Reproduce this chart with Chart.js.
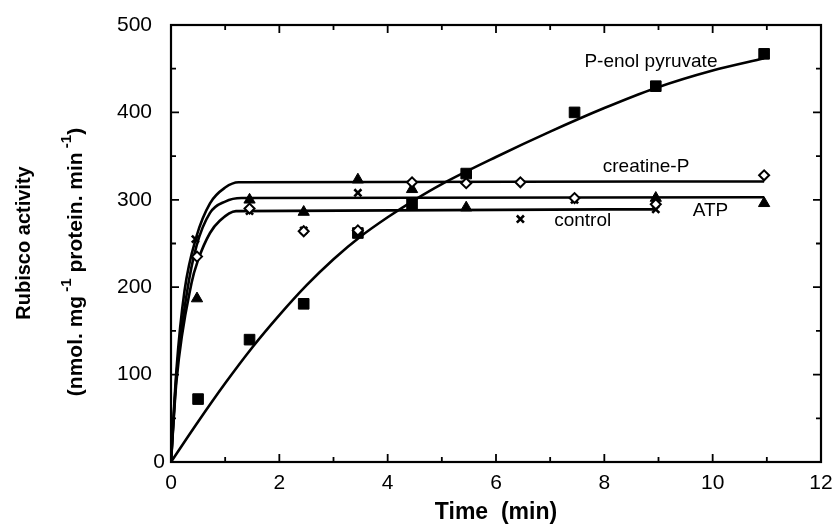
<!DOCTYPE html>
<html>
<head>
<meta charset="utf-8">
<script src="https://cdn.jsdelivr.net/npm/chart.js@4.4.1/dist/chart.umd.min.js"></script>
<style>
  html, body { margin: 0; padding: 0; background: #fff; }
  #wrap { width: 838px; height: 531px; }
</style>
</head>
<body>
<div id="wrap"><canvas id="c" width="838" height="531"></canvas></div>
<script>
// ---------- data ----------
const xTicks = [0, 2, 4, 6, 8, 10, 12];
const yTicks = [0, 100, 200, 300, 400, 500];

// measured points
const pepPts      = [[0.5, 72], [1.45, 140], [2.45, 181], [3.45, 262], [4.45, 295], [5.45, 330], [7.45, 400], [8.95, 430], [10.95, 467]];
const atpPts      = [[0.48, 187], [1.45, 300], [2.45, 286], [3.45, 323], [4.45, 312], [5.45, 291], [8.95, 302], [10.95, 296]];
const controlPts  = [[0.45, 255], [1.45, 287], [2.45, 265], [3.45, 308], [4.45, 297], [6.45, 278], [7.45, 300], [8.95, 289]];
const creatinePts = [[0.48, 235], [1.45, 290], [2.45, 264], [3.45, 265], [4.45, 320], [5.45, 319], [6.45, 320], [7.45, 302], [8.95, 295], [10.95, 328]];

// fitted curves
const pepCurve      = [[0, 0], [0.5, 46], [1, 90], [1.5, 131], [2, 168], [2.5, 202], [3, 232], [3.5, 258], [4, 280], [4.5, 300], [5, 318], [6, 349], [7, 378], [8, 405], [8.95, 428], [10, 448], [10.95, 462]];
const creatineCurve = [[0, 0], [0.1, 105], [0.25, 196], [0.47, 258], [0.72, 296], [1.0, 314], [1.25, 320], [10.95, 321]];
const atpCurve      = [[0, 0], [0.1, 98], [0.3, 196], [0.47, 247], [0.72, 285], [1.0, 298], [1.3, 302], [10.95, 303]];
const controlCurve  = [[0, 0], [0.1, 92], [0.38, 205], [0.5, 231], [0.72, 262], [0.9, 276], [1.2, 287], [8.95, 289]];

// in-plot labels: [text, x, y] in data units
const seriesLabels = [
  ['P-enol pyruvate', 8.86, 458],
  ['creatine-P', 8.77, 338],
  ['ATP', 9.96, 287],
  ['control', 7.6, 276]
];

// ---------- build ----------
const FONT = '"Liberation Sans", Arial, sans-serif';
const toXY = a => a.map(p => ({ x: p[0], y: p[1] }));
const curveDs = (arr) => ({
  data: toXY(arr), showLine: true, borderColor: '#000', borderWidth: 2.6,
  pointRadius: 0, cubicInterpolationMode: 'monotone', fill: false, order: 2
});

const frameAndTicks = {
  id: 'frameAndTicks',
  afterDatasetsDraw(chart) {
    const { ctx, chartArea: a, scales: { x, y } } = chart;
    ctx.save();
    ctx.strokeStyle = '#000';
    ctx.lineWidth = 2.2;
    ctx.strokeRect(a.left, a.top, a.right - a.left, a.bottom - a.top);
    ctx.lineWidth = 1.8;
    ctx.beginPath();
    for (let v = 1; v < 12; v++) {
      const px = x.getPixelForValue(v);
      const len = (v % 2 === 0) ? 8 : 5;
      ctx.moveTo(px, a.bottom); ctx.lineTo(px, a.bottom - len);
      ctx.moveTo(px, a.top); ctx.lineTo(px, a.top + len);
    }
    for (let v = 50; v < 500; v += 50) {
      const py = y.getPixelForValue(v);
      const len = (v % 100 === 0) ? 8 : 5;
      ctx.moveTo(a.left, py); ctx.lineTo(a.left + len, py);
      ctx.moveTo(a.right, py); ctx.lineTo(a.right - len, py);
    }
    ctx.stroke();

    ctx.fillStyle = '#000';
    // y origin label sits closer to the corner in the original
    ctx.font = '21px ' + FONT;
    ctx.textAlign = 'right';
    ctx.textBaseline = 'middle';
    ctx.fillText(String(yTicks[0]), a.left - 6, y.getPixelForValue(yTicks[0]));

    // series labels
    ctx.font = '19px ' + FONT;
    ctx.textAlign = 'center';
    seriesLabels.forEach(([t, vx, vy]) => {
      ctx.fillText(t, x.getPixelForValue(vx), y.getPixelForValue(vy));
    });

    // y axis title (two lines, with superscripts)
    ctx.save();
    ctx.translate(24, 243);
    ctx.rotate(-Math.PI / 2);
    ctx.font = 'bold 20px ' + FONT;
    ctx.textAlign = 'center';
    ctx.textBaseline = 'middle';
    ctx.fillText('Rubisco activity', 0, 0);
    ctx.restore();

    ctx.save();
    ctx.translate(76, 262);
    ctx.rotate(-Math.PI / 2);
    const mainF = 'bold 21px ' + FONT;
    const supF = 'bold 15px ' + FONT;
    const parts = [['(nmol. mg', mainF, 0], [' -1', supF, -9], [' protein. min', mainF, 0], [' -1', supF, -9], [')', mainF, 0]];
    let total = 0;
    parts.forEach(p => { ctx.font = p[1]; total += ctx.measureText(p[0]).width; });
    let cx = -total / 2;
    ctx.textAlign = 'left';
    ctx.textBaseline = 'middle';
    parts.forEach(p => {
      ctx.font = p[1];
      ctx.fillText(p[0], cx, p[2]);
      cx += ctx.measureText(p[0]).width;
    });
    ctx.restore();
    ctx.restore();
  }
};

new Chart(document.getElementById('c'), {
  type: 'scatter',
  data: {
    datasets: [
      curveDs(pepCurve),
      curveDs(creatineCurve),
      curveDs(atpCurve),
      curveDs(controlCurve),
      { data: toXY(pepPts), pointStyle: 'rect', pointRadius: 7.5, backgroundColor: '#000', borderColor: '#000', borderWidth: 1, order: 1 },
      { data: toXY(atpPts), pointStyle: 'triangle', pointRadius: 6.5, backgroundColor: '#000', borderColor: '#000', borderWidth: 1, order: 1 },
      { data: toXY(controlPts), pointStyle: 'crossRot', pointRadius: 5, borderColor: '#000', borderWidth: 2.6, order: 1 },
      { data: toXY(creatinePts), pointStyle: 'rectRot', pointRadius: 5, backgroundColor: '#fff', borderColor: '#000', borderWidth: 2, order: 0 }
    ]
  },
  options: {
    responsive: false,
    animation: false,
    layout: { padding: { left: 0, right: 17, top: 25, bottom: 0 } },
    plugins: { legend: { display: false }, tooltip: { enabled: false } },
    scales: {
      x: {
        type: 'linear', min: 0, max: 12,
        afterBuildTicks: s => { s.ticks = xTicks.map(v => ({ value: v })); },
        afterFit: s => { s.height = 69; s.paddingLeft = 0; s.paddingRight = 0; },
        grid: { display: false, drawTicks: false },
        border: { display: false },
        ticks: { color: '#000', padding: 9, font: { size: 21, family: FONT }, maxRotation: 0 },
        title: { display: true, text: 'Time  (min)', color: '#000', padding: { top: 0, bottom: 5 }, font: { size: 23, weight: 'bold', family: FONT } }
      },
      y: {
        type: 'linear', min: 0, max: 500,
        afterBuildTicks: s => { s.ticks = yTicks.map(v => ({ value: v })); },
        afterFit: s => { s.width = 171; s.paddingTop = 0; s.paddingBottom = 0; },
        grid: { display: false, drawTicks: false },
        border: { display: false },
        ticks: { color: '#000', padding: 19, font: { size: 21, family: FONT }, callback: v => (v === yTicks[0] ? '' : String(v)) }
      }
    }
  },
  plugins: [frameAndTicks]
});
</script>
</body>
</html>
